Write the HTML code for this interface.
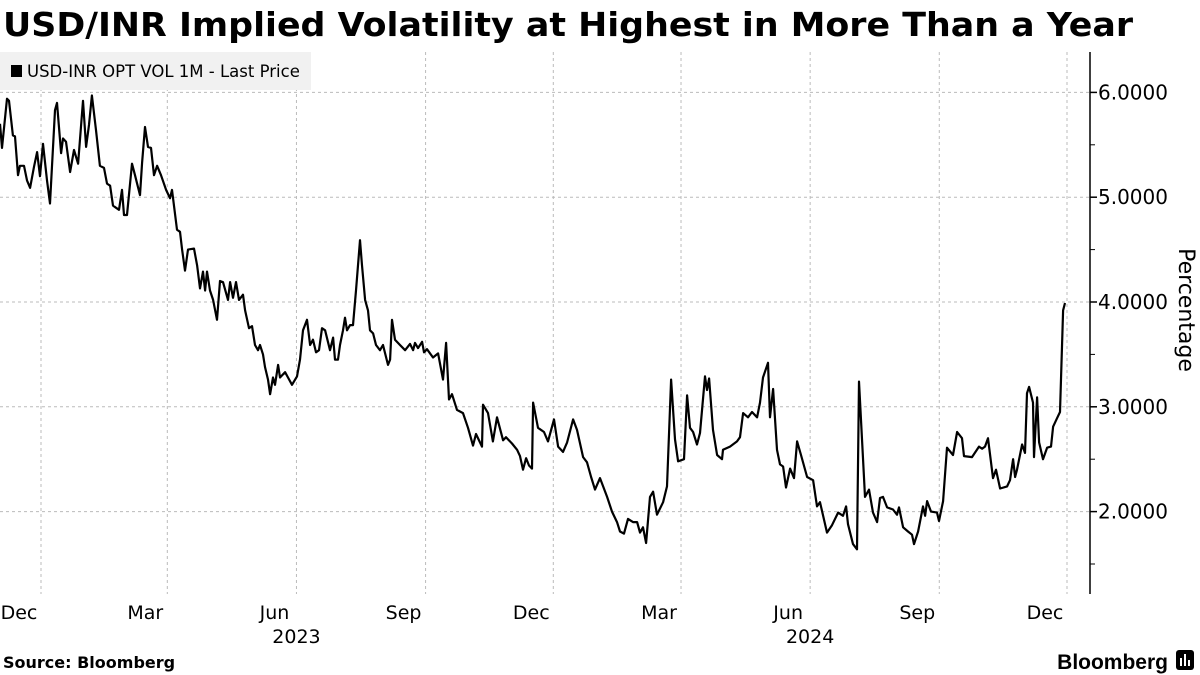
<!DOCTYPE html>
<html><head><meta charset="utf-8"><style>
html,body{margin:0;padding:0;background:#fff;}
svg{display:block;}
</style></head><body>
<svg id="chart" width="1200" height="675" viewBox="0 0 1200 675" xmlns="http://www.w3.org/2000/svg" font-family="'DejaVu Sans','Liberation Sans',sans-serif">
<text x="3" y="36" font-size="33" font-weight="bold" textLength="1130" lengthAdjust="spacingAndGlyphs" fill="#000">USD/INR Implied Volatility at Highest in More Than a Year</text>
<g id="grid"></g>
<g id="axes"></g>
<path id="line" fill="none" stroke="#000" stroke-width="2.2" stroke-linejoin="round"></path>
<g>
<rect x="0" y="52" width="311" height="38" fill="#f1f1f1"></rect>
<rect x="11" y="65" width="11" height="12" fill="#000"></rect>
<text x="27" y="77" font-size="16.5" fill="#000">USD-INR OPT VOL 1M - Last Price</text>
</g>
<text transform="translate(1179,310) rotate(90)" text-anchor="middle" font-size="22" fill="#000">Percentage</text>
<text x="3" y="668" font-size="16" font-weight="bold" fill="#000">Source: Bloomberg</text>
<text x="1168" y="669" text-anchor="end" font-size="21" font-weight="bold" fill="#000" font-family="'Liberation Sans',sans-serif">Bloomberg</text>
<g>
<rect x="1176" y="650" width="18" height="20" rx="3" fill="#000"></rect>
<rect x="1180" y="658" width="2" height="8" fill="#fff"></rect>
<rect x="1184" y="654" width="2" height="12" fill="#fff"></rect>
<rect x="1188" y="660" width="2" height="6" fill="#fff"></rect>
</g>
</svg>
<script>
// days since 2022-12-01
const days = [-29.2,-27.8,-24.2,-22.8,-20,-18.5,-16.4,-15,-12.1,-10,-7.8,-5,-2.8,-0.7,1.4,4.3,6.4,10,11.4,14.3,15.7,17.8,20.7,23.5,26.4,29.9,32.1,34.2,36.3,39.2,42,44.9,47,49.2,51.3,53.4,55.6,57.7,59.1,61.3,64.8,67,70.5,72,74.1,76.2,78.4,80.5,82.7,85.5,89.1,91.9,93.3,96.9,99,100.5,102.6,104.7,109,111.2,113.3,115.4,116.9,118.3,120.4,122.6,125.4,127.5,129.7,133.2,134.7,136.8,138.9,141.1,143.9,145.4,148.2,150.3,152.5,154.6,156,158.2,159.6,161.7,163.2,165.3,166.7,168.9,170.3,173.9,176,178.8,182.4,184.5,186.7,189.5,191.7,193.8,195.9,198.1,200.2,202.4,205.9,208.1,209.5,211.6,213,215.2,216.6,218,220.2,222.3,224.4,227.3,228.7,230.9,233,234.4,236.6,238.7,241.5,243.7,247.2,248.7,250.1,252.2,255.8,259.4,262.9,265.1,266.5,268.6,271.5,272.9,275,279.3,282.9,286.4,288.6,290.7,292.8,296.4,300.7,304.2,307.8,309.9,314.2,314.9,318.5,322,324.9,329.2,331.3,335.6,339.2,341.3,343.4,345.6,347.7,349.8,350.6,354.1,358.4,361.2,365.5,368.4,371.9,374.8,379.1,381.9,386.2,389,391.9,394.7,398.3,403.3,406.8,410.4,412.5,415.4,418.2,421.8,424.7,426.8,428.9,431.1,433.9,436.1,438.9,443.2,446,448.9,451.7,453.9,458.1,460.3,462.4,464.6,467.4,469.5,473.1,474.5,476,478.8,481.7,485.2,485.9,490.9,495.9,498,500.2,503.7,506.6,510.2,512.3,514.4,518,519.4,521.6,524.4,526.5,528.7,530.8,533.7,536.5,538.7,541.5,545.8,550.1,552.9,555,560,563.6,567.9,571.4,573.6,575,578.5,581.4,582.8,587.1,589.9,592.8,595.7,597.8,599.9,602.8,607,609.9,611.3,614.2,617.7,620.6,622,624.9,628.4,629.9,631.3,634.1,638.4,639.8,642.7,645.5,649.8,652.7,656.2,657.6,663.3,668.3,670.5,672.6,674.7,678.3,680.4,683.3,688.3,690.4,692.6,694,695.4,699,701.1,702.5,704,706.8,707.5,709.7,711.1,713.9,716.8,719.6,721.1,723.9,726,728.2,729.6];
const vols = [5.70,5.47,5.94,5.92,5.59,5.58,5.21,5.30,5.30,5.16,5.09,5.29,5.43,5.20,5.51,5.16,4.94,5.83,5.90,5.42,5.56,5.53,5.24,5.45,5.32,5.92,5.48,5.69,5.97,5.64,5.30,5.28,5.13,5.11,4.92,4.90,4.88,5.07,4.83,4.83,5.32,5.21,5.02,5.33,5.67,5.48,5.47,5.21,5.30,5.21,5.07,4.99,5.07,4.69,4.67,4.50,4.30,4.50,4.51,4.35,4.13,4.29,4.11,4.29,4.11,4.02,3.83,4.20,4.19,4.02,4.19,4.04,4.19,4.02,4.07,3.92,3.75,3.77,3.59,3.54,3.59,3.50,3.38,3.26,3.12,3.28,3.21,3.40,3.28,3.33,3.28,3.21,3.29,3.45,3.73,3.83,3.59,3.64,3.52,3.54,3.75,3.73,3.54,3.66,3.45,3.45,3.59,3.73,3.85,3.73,3.78,3.78,4.11,4.59,4.35,4.02,3.92,3.73,3.70,3.59,3.54,3.59,3.40,3.45,3.83,3.64,3.59,3.54,3.60,3.54,3.61,3.56,3.62,3.52,3.55,3.47,3.51,3.26,3.61,3.07,3.12,2.97,2.94,2.80,2.63,2.74,2.62,3.02,2.94,2.67,2.90,2.68,2.71,2.65,2.59,2.53,2.40,2.51,2.44,2.41,3.04,2.80,2.76,2.67,2.88,2.62,2.57,2.66,2.88,2.78,2.52,2.47,2.33,2.21,2.32,2.14,2.00,1.90,1.81,1.79,1.93,1.90,1.90,1.80,1.85,1.70,2.14,2.19,1.97,2.09,2.24,3.26,2.69,2.48,2.50,3.11,2.80,2.76,2.64,2.75,3.29,3.16,3.27,2.78,2.54,2.50,2.59,2.62,2.67,2.71,2.94,2.90,2.95,2.90,3.04,3.28,3.42,2.90,3.17,2.59,2.45,2.43,2.23,2.41,2.32,2.67,2.54,2.33,2.30,2.05,2.09,1.80,1.87,1.99,1.96,2.05,1.88,1.69,1.64,3.24,2.14,2.21,1.99,1.90,2.13,2.14,2.04,2.02,1.97,2.04,1.85,1.81,1.78,1.69,1.81,2.05,1.96,2.10,2.00,1.99,1.91,2.10,2.61,2.54,2.76,2.70,2.53,2.52,2.62,2.60,2.62,2.70,2.32,2.40,2.22,2.24,2.30,2.50,2.33,2.40,2.64,2.56,3.13,3.19,3.04,2.52,3.09,2.66,2.50,2.61,2.62,2.81,2.89,2.95,3.92,3.99];
const monthLabels = ["Dec","Mar","Jun","Sep","Dec","Mar","Jun","Sep","Dec"];
const monthDays = [0,90,182,274,365,456,548,640,731];
const yearLabels = ["2023","2024"];
const yearDays = [182,548];
const yTicks = [2,3,4,5,6];
const yTickLabels = ["2.0000","3.0000","4.0000","5.0000","6.0000"];
const yMinor = [1.5,2.5,3.5,4.5,5.5];

const NS = "http://www.w3.org/2000/svg";
const X0 = 41, PXD = (1067-41)/731;
const xs = d => X0 + d*PXD;
const ys = v => 302 + (4 - v)*104.8;
const AX = 1090, TOP = 52, BOT = 594;
function mk(tag, attrs, parent){const e=document.createElementNS(NS,tag);for(const k in attrs)e.setAttribute(k,attrs[k]);parent.appendChild(e);return e;}
const grid=document.getElementById('grid'), axes=document.getElementById('axes');
yTicks.forEach((v,i)=>{
  const l=mk('line',{x1:0,x2:AX,y1:ys(v),y2:ys(v),stroke:'#bbb','stroke-width':1,'stroke-dasharray':'3,3'},grid);
  
  
  const t=mk('line',{x1:AX,x2:AX+7,y1:ys(v),y2:ys(v),stroke:'#000','stroke-width':1.5},axes);
  
  
  const tx=mk('text',{x:AX+8,y:ys(v)+7,'font-size':20,fill:'#000'},axes);
  tx.textContent=yTickLabels[i];
  
  
});
yMinor.forEach(v=>{
  const t=mk('line',{x1:AX,x2:AX+5,y1:ys(v),y2:ys(v),stroke:'#000','stroke-width':1},axes);
  
  
});
monthDays.forEach((d,i)=>{
  const l=mk('line',{x1:xs(d),x2:xs(d),y1:TOP,y2:BOT,stroke:'#bbb','stroke-width':1,'stroke-dasharray':'3,3'},grid);
  
  
  const t=mk('text',{x:xs(d)-22,y:619,'font-size':19,'text-anchor':'middle',fill:'#000'},axes);
  t.textContent=monthLabels[i];
  
  
});
yearDays.forEach((d,i)=>{
  const t=mk('text',{x:xs(d),y:643,'font-size':19,'text-anchor':'middle',fill:'#000'},axes);
  t.textContent=yearLabels[i];
  
  
});
const ax=mk('line',{x1:AX,x2:AX,y1:TOP,y2:BOT,stroke:'#000','stroke-width':1.5},axes);


document.getElementById('line').setAttribute('d', days.map((d,i)=>(i?'L':'M')+xs(d).toFixed(1)+','+ys(vols[i]).toFixed(1)).join(''));
</script>
</body></html>
